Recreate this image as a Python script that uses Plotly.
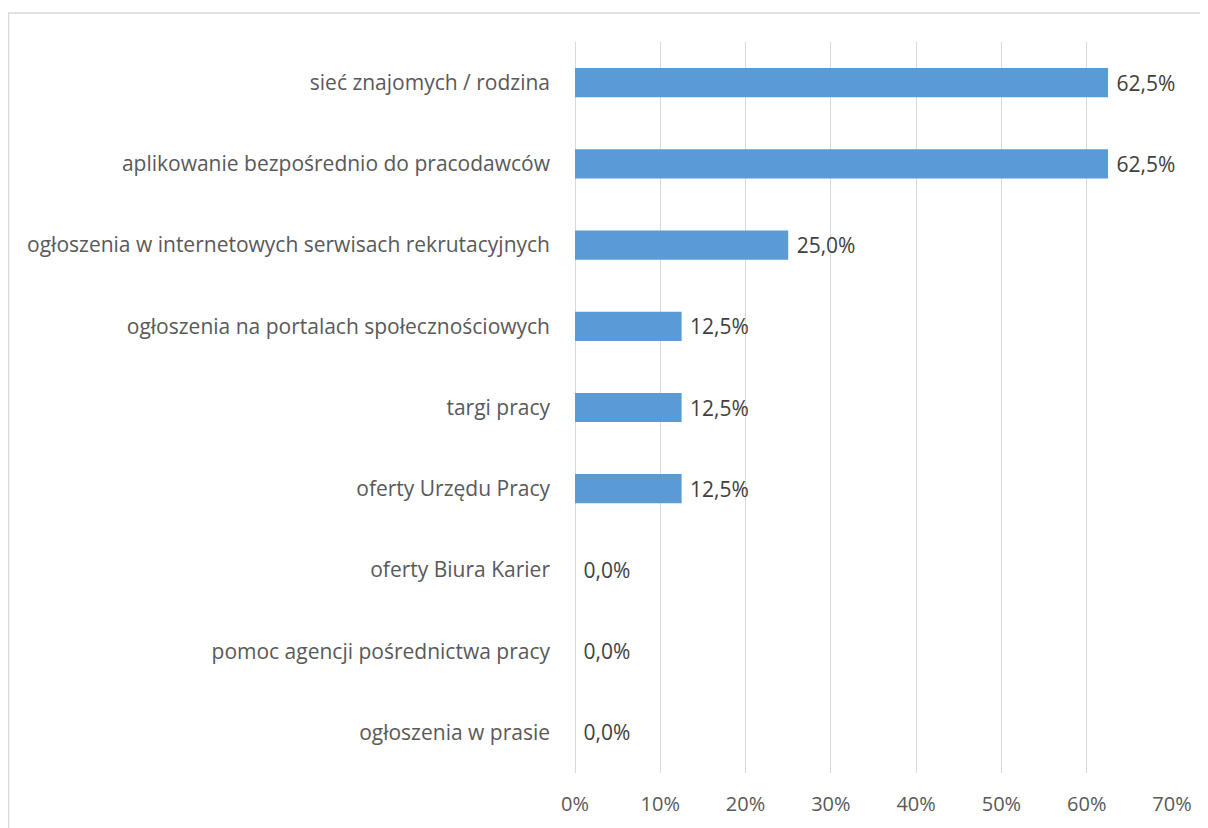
import plotly.graph_objects as go

kategorie = [
    "sieć znajomych / rodzina",
    "aplikowanie bezpośrednio do pracodawców",
    "ogłoszenia w internetowych serwisach rekrutacyjnych",
    "ogłoszenia na portalach społecznościowych",
    "targi pracy",
    "oferty Urzędu Pracy",
    "oferty Biura Karier",
    "pomoc agencji pośrednictwa pracy",
    "ogłoszenia w prasie",
]
procenty = [62.5, 62.5, 25.0, 12.5, 12.5, 12.5, 0.0, 0.0, 0.0]
ticki = [0, 10, 20, 30, 40, 50, 60, 70]
ticki_tekst = [f"{t}%" for t in ticki]

FONT = "Open Sans"
SIZE = 21

fig = go.Figure(go.Bar(
    y=kategorie,
    x=procenty,
    orientation="h",
    marker=dict(color="#5B9BD5", line=dict(width=0)),
    texttemplate=" %{x:.1f}%",
    textposition="outside",
    textfont=dict(family=FONT, size=SIZE, color="#404040"),
    cliponaxis=False,
))

# page body has an 8px margin, so figure coordinates are shifted by 8px
W, H = 1200, 820
L, R, T, B = 567, 36, 34, 55
pw, ph = W - L - R, H - T - B

fig.update_layout(
    width=W,
    height=H,
    margin=dict(l=L, r=R, t=T, b=B, autoexpand=False),
    paper_bgcolor="white",
    plot_bgcolor="white",
    separators=", ",
    bargap=0.64,
    showlegend=False,
    font=dict(family=FONT, size=SIZE, color="#595959"),
    xaxis=dict(
        range=[0, 70],
        tickvals=ticki,
        ticktext=ticki_tekst,
        showgrid=True,
        gridcolor="#D9D9D9",
        gridwidth=1,
        zeroline=True,
        zerolinecolor="#D9D9D9",
        zerolinewidth=1,
        showline=False,
        ticks="",
        ticklabelstandoff=17,
        tickfont=dict(size=20, color="#595959"),
        fixedrange=True,
    ),
    yaxis=dict(
        categoryorder="array",
        categoryarray=kategorie,
        autorange="reversed",
        showgrid=False,
        showline=False,
        ticks="",
        ticklabelstandoff=24,
        tickfont=dict(size=SIZE, color="#595959"),
    ),
    shapes=[dict(
        type="rect",
        xref="paper", yref="paper",
        x0=(0.5 - L) / pw, x1=(W + 20 - L) / pw,
        y0=-(B + 20) / ph, y1=1 + (T - 5) / ph,
        line=dict(color="#D9D9D9", width=1.5),
        fillcolor="rgba(0,0,0,0)",
        layer="below",
    )],
)

fig.write_html("out.html")
